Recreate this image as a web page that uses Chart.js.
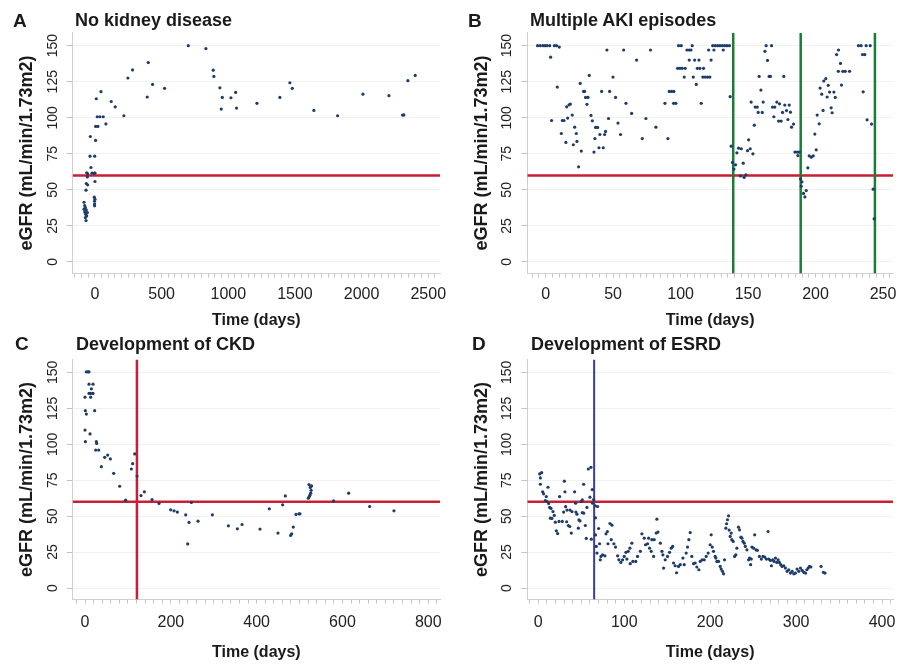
<!DOCTYPE html>
<html>
<head>
<meta charset="utf-8">
<script src="https://cdn.jsdelivr.net/npm/chart.js@4.4.1/dist/chart.umd.min.js"></script>
<style>
body{margin:0;background:#fff;width:911px;height:665px;position:relative;overflow:hidden;font-family:"Liberation Sans",Arial,Helvetica,sans-serif;color:#1a1a1a}
.panel{position:absolute}
.panel canvas{display:block}
.lbl{position:absolute;font-weight:bold;font-size:19px;line-height:19px}
.ttl{position:absolute;font-weight:bold;font-size:18px;line-height:18px;white-space:nowrap}
</style>
</head>
<body>
<div class="panel" style="left:0;top:0"><canvas id="cA" width="455" height="332"></canvas></div>
<div class="panel" style="left:455px;top:0"><canvas id="cB" width="442" height="332"></canvas></div>
<div class="panel" style="left:0;top:332px"><canvas id="cC" width="455" height="333"></canvas></div>
<div class="panel" style="left:455px;top:332px"><canvas id="cD" width="442" height="333"></canvas></div>

<div class="lbl" style="left:13px;top:11px">A</div><div class="ttl" style="left:75px;top:11px">No kidney disease</div>
<div class="lbl" style="left:468px;top:11px">B</div><div class="ttl" style="left:530px;top:11px">Multiple AKI episodes</div>
<div class="lbl" style="left:15px;top:334px">C</div><div class="ttl" style="left:76px;top:335px">Development of CKD</div>
<div class="lbl" style="left:472px;top:334px">D</div><div class="ttl" style="left:531px;top:335px">Development of ESRD</div>

<script>
// ===== DATA =====
const Y_TICKS=[0,25,50,75,100,125,150];
const EGFR_CUTOFF=60;

// [day, eGFR]
const A_POINTS=[[700,150],[832,148],[887,133],[892,128.7],[937,120.8],[955,114.1],[947,106],[1020,113.9],[1055,117.6],[1062,106.7],
[1215,110],[1387,114.1],[1462,124.3],[1480,120.4],[1642,105.1],[1820,101.4],[2010,116.4],[2205,115.3],[2307,101.9],[2317,102],[2347,125.7],[2402,129.4],
[400,138.3],[432,123.1],[392,114.4],[522,120.4],[282,133.2],[247,127.6],[217,101.4],[152,107.6],[122,111.3],[82,95.7],[62,100.7],[37,100.7],[17,100.7],
[45,118.1],[10,113.2],[5,94],[22,94],[5,84.3],[-35,87],[-37,73.4],[-2,73.4],[-30,65.5],[-62,61.8],[-55,61.1],[-22,61.6],[-5,61.6],[0,61.6],[-57,59],
[-65,54.4],[-55,53.5],[0,55.8],[-67,49.8],[-5,44.9],[0,43.5],[-3,42.1],[-3,40.2],[-3,38.9],
[-82,41.4],[-77,39.1],[-72,37.7],[-82,36.6],[-65,36.1],[-77,34.7],[-57,34.3],[-70,33.1],[-62,31.9],[-72,30.8],[-67,28.7]];

const B_POINTS=[[-6,150],[-4,150],[-2,150],[-0.5,150],[1,150],[3,150],[6.4,150],[8.1,150],[10.1,149],
[3.7,142],[8.6,121.3],[4.4,98.1],[11.6,89.1],[15,82.9],[12.4,98.1],[13.6,98.1],[15.6,107.6],[17.3,109],[18.3,109.5],[16.3,99.8],[19.7,101.9],
[21.5,93.5],[22.7,89.1],[23.2,83.6],[20.5,81.3],[24.4,66],[26.4,76.9],[25.6,123.8],[28.1,118.3],[28.9,118.3],[29.6,114.1],[31.4,114.1],[30.6,109.3],
[32.3,129.4],[33.6,101.6],[34.6,97.9],[37,93.3],[38.5,93.3],[36.5,85.6],[35.8,76.2],[40.2,88.4],[43.7,88.4],[44.4,90.5],[39.5,79.2],[42.7,79.2],
[41.5,118.3],[45.4,147],[46.6,99.5],[47.4,118.3],[49.9,128.2],[51.8,114.1],[53.6,96.3],[55.5,88.4],[57.8,147],[59.5,110],[63.7,103],[67.4,140],
[71.6,85.6],[74.3,99.5],[77.7,147],[81.7,93.5],[88.4,110],[90.6,85.6],[91.6,118.3],[93.3,118.3],[95,118.3],[94.8,110],[96.5,110],[97.8,134.3],
[99.5,134.3],[101.2,134.3],[103.4,134.3],[98.5,150],[100.5,150],[102.7,128.2],[104.7,147],[106.4,147],[107.7,147],[108.6,150],[106.4,140],[110.4,140],
[113.6,140],[109.4,128.2],[112.4,134.3],[114.3,134.3],[111.6,123.1],[115.3,110],[117,134.3],[116.5,128.2],[118.3,128.2],[120,128.2],[121.7,128.2],
[120.8,147],[122.6,140],[123.8,150],[125.7,150],[127.5,150],[129.2,150],[131,150],[132.7,150],[134.4,150],[136.2,150],[124.7,147],[131.6,147],
[136.7,114.6],[137.5,80.3],[138.5,69],[139.5,64.4],[140.7,67.4],[141.7,75.7],[143,78.9],[145,78.5],[146.4,68.5],[144.4,59.7],[147.1,58.6],[148.4,60.4],
[149.6,77.2],[151.6,78.5],[150.4,84.7],[153.6,75],[154.6,94.9],[152.3,110.9],[155.3,107.4],[156.8,107.4],[157.5,103.7],[160.5,103.7],[158.2,128.7],
[159.5,119.2],[161.2,110.9],[162.5,146.1],[163.4,150],[167.4,150],[164.4,139.8],[165.6,128.7],[166.6,128.7],[168.1,107.4],[169.8,107.4],[169.1,100.7],
[171.3,110.9],[173.3,109.7],[177.2,108.8],[180.5,108.8],[172.6,97.7],[174.5,97.7],[175.5,103.7],[176.5,128.7],[178.5,105],[181.4,103.9],[179.5,98.8],
[182.2,93.5],[183.7,95.6],[184.7,76.2],[186.4,76.2],[187.9,76.2],[186.9,73.8],[188.9,57.6],[189.9,55.6],[189.4,52.5],[191.1,47.5],[192.1,45.1],
[193.1,49.5],[194.3,65.3],[195.3,73.6],[196.8,72.7],[198.3,73.6],[199.5,88.7],[200.5,77.8],[201.2,101.9],[202.7,95.8],[203.4,120.6],[204.6,116.4],
[205.6,105.1],[206.1,125.5],[207.6,127.1],[209.4,122.5],[208.6,114.4],[210.4,117.8],[211.6,106.9],[212.3,103.5],[213.6,117.8],[214.6,114.1],
[215.6,143.8],[217,147],[218.5,137.7],[216.9,132.2],[220.2,132.2],[222,132.2],[219.2,122.7],[225.2,132.2],[231.8,150],[233.8,150],[234.8,143.8],
[236.5,143.8],[237.5,150],[240.5,150],[235.3,118],[238.2,98.6],[241.5,95.6],[242.7,50.5],[243.4,29.9]];
const B_AKI_DAYS=[139,189,244];

const C_POINTS=[[3,150.4],[7,150.4],[9.3,150.4],[9.3,141.8],[18.6,141.8],[14.8,138.6],[9.3,135.4],[13.2,135.4],[18.6,135.4],[0,132.8],[13.2,132.8],
[0.8,123.4],[3.1,121],[22.5,123.4],[0,109.9],[11.7,107.2],[0.8,101.8],[26.4,101.8],[27.2,100.6],[24.9,96],[31.9,96],[45.8,90.9],[52.8,92.5],[59,89.8],
[38.1,84.4],[66.8,79.8],[80.8,70.8],[94.8,61.1],[108,82.8],[111.1,86.5],[115.8,93.3],[121.2,77.9],[130.5,64.3],[138.3,66.9],[156.2,61.5],[172.5,58.8],
[199.7,54.4],[207.5,53.7],[215.2,52.8],[234.7,50.9],[242.4,45.6],[239.3,30.7],[247.9,59.5],[263.4,46.5],[296.8,50.9],[334.1,43.3],[355.1,41.2],
[366,44.2],[407.8,41],[429.5,55.1],[449.7,38.2],[460.6,57.9],[466.8,64.1],[479.2,36.6],[481.6,37.7],[485.4,42.4],[491.7,51.2],[498.6,51.6],[501,51.6],
[520.4,62.5],[522.7,63.7],[522,72],[525,70],[527,68],[526,66],[524,64.5],[528,71],[579.4,60.6],[614.4,66],[663.3,56.7],[720,53.7]];
const C_CKD_DAY=121;

const D_POINTS=[[1.6,79.4],[3.9,80.3],[2.4,76.6],[2.4,72.2],[5.1,66.9],[6.2,65.5],[9.3,63.6],[11.3,70.1],[8.2,60.9],[10.1,60.2],[12,58.8],[13.2,56.1],
[14.8,55.4],[17.1,53.2],[18.6,50.5],[14,48.6],[15.9,48.4],[19.8,45.8],[24.1,46.3],[27.9,46.3],[21,39.8],[22.5,37.9],[24.8,63.6],[30.3,74.3],[31,66.9],
[31.8,56.6],[33.4,54.2],[36.9,54.2],[39.2,53.2],[29.5,52.8],[33,46.1],[35,43.5],[36.6,42.8],[38.4,38.2],[42.3,66.9],[43.4,59],[43.8,52.8],[45,51.4],
[47.3,47.4],[48.5,46.7],[46.6,41.6],[50,60.2],[51.2,61.3],[51.2,52.5],[52.8,52.1],[54.7,43.5],[52.8,72.2],[55.8,34.5],[56.6,56.1],[58.2,82.8],[61.3,84],
[60.1,63.2],[62.8,68.5],[61.7,34],[64.4,61.6],[63.2,59],[66.3,57.2],[69,56.7],[66.6,48.8],[66.6,36.9],[67.5,28.9],[68.3,24.3],[70.2,41.4],[71.3,30.8],
[72.9,22],[74.8,23.1],[77.5,22.4],[72.1,19.6],[81.1,30.8],[78.8,37.7],[80.4,39.3],[83.4,44.9],[85.7,43.7],[84.9,33.6],[88,30.8],[89.9,28.5],[92.3,22.4],
[93.8,19.6],[96.1,17.8],[98.1,19.6],[100,22],[102,24.8],[104.7,25.5],[106.6,27.7],[108.9,31.2],[103.1,20.1],[107,16.9],[110,18.5],[113.4,18.5],
[115.5,22],[118.8,25.5],[120.6,37.7],[123.3,34.7],[124.8,30.1],[127.2,30.8],[129.5,27.7],[131.4,25.5],[134.2,22],[128.4,34.7],[132.2,33.6],[134.9,33.6],
[137.2,38.2],[138,47.9],[139.3,38.9],[142,31.2],[143.9,25.5],[145,23.1],[145.8,13.9],[147.7,19.6],[150.4,22],[152.7,24.8],[154.7,27.7],[156.4,28.9],
[157.4,17.4],[159.3,15.5],[160.9,10.6],[163.2,15],[165.2,16.2],[168.3,20.8],[169.8,16.2],[172.1,24.3],[173.7,28.5],[175.2,33.6],[176.8,38.6],[178.7,22],
[180.7,16.9],[182.6,17.4],[184.5,14.6],[186.9,12.7],[188.4,18.5],[190.7,19.6],[193.1,19.6],[195.4,22],[197.7,24.3],[200,30.1],[201.2,37],[202.4,28.5],
[203.9,25.5],[205.8,22],[206.6,20.8],[207.8,18.5],[209.8,18.5],[211.7,15],[212.8,13.2],[214.4,11.6],[215.6,9.9],[216.7,19.6],[218.3,41.6],[219.1,44.7],
[220.2,47.5],[221.4,50.2],[222.1,40.3],[223.3,35.9],[224.5,38.2],[225.2,33.6],[226.8,32.4],[228.4,22],[229.9,23.1],[231.1,27.7],[233,42.3],[234.2,40.5],
[235.8,35.4],[237,34.7],[238.2,32.4],[239.7,31.2],[240.9,28.9],[242.8,26.6],[244.7,19.6],[245.9,20.8],[247.1,16.2],[247.9,20.1],[248.6,28.5],[250.6,27.7],
[251.8,37],[253.4,26.6],[254.9,26.2],[257.3,22],[259.6,20.1],[261.5,22],[263.5,21.5],[265.4,20.1],[267.4,39.3],[268.2,20.1],[270.2,19.2],[271.3,15.5],
[272.9,19.6],[274.4,18.5],[276,20.8],[277.5,17.8],[279.1,19.6],[280.6,17.8],[282.2,16.2],[283.7,15],[285.7,15.5],[287.6,13.9],[289.6,11.6],[291.5,12.7],
[293.4,10.4],[295.4,11.6],[297.3,9.9],[299.3,10.4],[301.2,13.2],[303.2,11.6],[305.1,13.9],[307.1,12.2],[309,10.9],[311,10.4],[312.5,12.7],[314.1,13.9],
[315.6,15],[317.2,14.6],[329.1,15],[331.8,10.9],[333.7,10.4]];
const D_ESRD_DAY=65;

const A_XLABELS=[0,500,1000,1500,2000,2500];
const B_XLABELS=[0,50,100,150,200,250];
const C_XLABELS=[0,200,400,600,800];
const D_XLABELS=[0,100,200,300,400];

// ===== STYLE =====
const FONT='"Liberation Sans", Arial, Helvetica, sans-serif';
const INK='#1a1a1a';
const DOT='#1e3c6a';
const RED='#c81e36',GREEN='#1a7d35',BLUE='#3b3c9a';
const Y_MIN=-8,Y_MAX=159;

function hLine(v,xMin,xMax,color){
  return{data:[{x:xMin,y:v},{x:xMax,y:v}],showLine:true,borderColor:color,borderWidth:2.5,pointRadius:0};
}
function vLine(v,color,w){
  return{data:[{x:v,y:Y_MIN},{x:v,y:Y_MAX}],showLine:true,borderColor:color,borderWidth:w||2.5,pointRadius:0};
}

function makePanel(id,p){
  const datasets=[{data:p.points.map(d=>({x:d[0],y:d[1]})),pointRadius:1.6,pointBackgroundColor:DOT,pointBorderWidth:0,showLine:false}];
  (p.vLines||[]).forEach(l=>datasets.push(l));
  datasets.push(hLine(EGFR_CUTOFF,p.xMin,p.xMax,RED));
  // points on top: draw lines first
  datasets.forEach((d,i)=>d.order=i===0?0:(d.borderColor===RED?2:1));

  new Chart(document.getElementById(id),{
    type:'scatter',
    data:{datasets},
    options:{
      responsive:false,animation:false,devicePixelRatio:1,events:[],
      layout:{padding:{top:p.padTop,right:p.padRight,left:0,bottom:0}},
      plugins:{legend:{display:false},tooltip:{enabled:false}},
      scales:{
        x:{type:'linear',min:p.xMin,max:p.xMax,
          afterBuildTicks:s=>{const t=[];for(let v=Math.ceil(p.xMin/p.xStep)*p.xStep;v<=p.xMax;v+=p.xStep)t.push({value:v});s.ticks=t;},
          afterFit:s=>{s.height=p.xH;s.paddingLeft=0;s.paddingRight=0;},
          ticks:{autoSkip:false,minRotation:0,maxRotation:0,padding:p.xTickPad,color:'#222',font:{family:FONT,size:16},
            callback:v=>p.xLabels.includes(v)?String(v):''},
          grid:{drawOnChartArea:false,tickLength:4,tickColor:'#c4c4c4'},
          border:{color:'#cfcfcf'},
          title:{display:true,text:'Time (days)',color:INK,font:{family:FONT,size:16,weight:'bold'},padding:{top:0,bottom:p.xTitlePad}}
        },
        y:{type:'linear',min:Y_MIN,max:Y_MAX,
          afterBuildTicks:s=>{s.ticks=Y_TICKS.map(v=>({value:v}));},
          afterFit:s=>{s.width=p.yW;s.paddingTop=0;s.paddingBottom=0;},
          ticks:{minRotation:90,maxRotation:90,crossAlign:'center',padding:2,color:'#222',font:{family:FONT,size:14}},
          grid:{color:'#f1f1f1',tickLength:6,tickColor:'#c4c4c4'},
          border:{color:'#cfcfcf'},
          title:{display:true,text:'eGFR (mL/min/1.73m2)',color:INK,font:{family:FONT,size:18,weight:'bold'},padding:{top:16,bottom:0}}
        }
      }
    }
  });
}

makePanel('cA',{points:A_POINTS,xMin:-167,xMax:2588,xStep:50,xLabels:A_XLABELS,
  padTop:32.7,padRight:15,yW:72.7,xH:58.5,xTickPad:7,xTitlePad:2});
makePanel('cB',{points:B_POINTS,xMin:-13.6,xMax:257.4,xStep:5,xLabels:B_XLABELS,
  vLines:B_AKI_DAYS.map(d=>vLine(d,GREEN)),
  padTop:32.7,padRight:3.7,yW:72.3,xH:58.5,xTickPad:7,xTitlePad:2});
makePanel('cC',{points:C_POINTS,xMin:-28.7,xMax:827.3,xStep:20,xLabels:C_XLABELS,
  vLines:[vLine(C_CKD_DAY,RED)],
  padTop:27.5,padRight:15,yW:72.7,xH:65.5,xTickPad:9.5,xTitlePad:3});
makePanel('cD',{points:D_POINTS,xMin:-12.8,xMax:412.8,xStep:10,xLabels:D_XLABELS,
  vLines:[vLine(D_ESRD_DAY,BLUE,2)],
  padTop:27.5,padRight:3.7,yW:72.3,xH:65.5,xTickPad:9.5,xTitlePad:3});
</script>
</body>
</html>
